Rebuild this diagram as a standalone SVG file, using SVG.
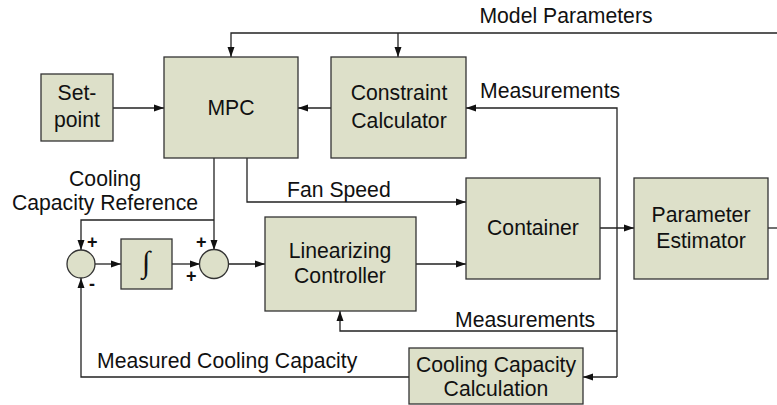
<svg xmlns="http://www.w3.org/2000/svg" width="777" height="405" viewBox="0 0 777 405">
<style>
.b{fill:#dde0c9;stroke:#333;stroke-width:1.3}
.l{fill:none;stroke:#222;stroke-width:1.3}
text{font-family:"Liberation Sans",Arial,sans-serif;font-size:21.2px;fill:#111}
.c{text-anchor:middle}
.s{font-size:18px;font-weight:bold}
</style>
<defs>
<marker id="a" viewBox="0 0 10 10" refX="10" refY="5" markerWidth="10" markerHeight="10" markerUnits="userSpaceOnUse" orient="auto">
<path d="M0,1.5 L10,5 L0,8.5 z" fill="#111"/>
</marker>
</defs>
<rect width="777" height="405" fill="#fff"/>
<g id="connectors">
<path class="l" d="M777,33 H231 V57" marker-end="url(#a)"/>
<path class="l" d="M398,33 V57" marker-end="url(#a)"/>
<path class="l" d="M113,108 H164" marker-end="url(#a)"/>
<path class="l" d="M331,108 H298" marker-end="url(#a)"/>
<path class="l" d="M617,377 V108 H466" marker-end="url(#a)"/>
<path class="l" d="M247,158 V202 H466" marker-end="url(#a)"/>
<path class="l" d="M214,158 V250" marker-end="url(#a)"/>
<path class="l" d="M214,220 H81 V250" marker-end="url(#a)"/>
<path class="l" d="M95,264 H121" marker-end="url(#a)"/>
<path class="l" d="M172,264 H200" marker-end="url(#a)"/>
<path class="l" d="M229,264 H265" marker-end="url(#a)"/>
<path class="l" d="M416,264 H466" marker-end="url(#a)"/>
<path class="l" d="M600,228 H634" marker-end="url(#a)"/>
<path class="l" d="M768,228 H777"/>
<path class="l" d="M617,331 H340 V311" marker-end="url(#a)"/>
<path class="l" d="M617,377 H583" marker-end="url(#a)"/>
<path class="l" d="M409,377 H81 V278" marker-end="url(#a)"/>
</g>
<g id="setpoint"><rect class="b" x="41" y="74" width="72" height="67"/><text class="c" x="77" y="100">Set-</text><text class="c" x="77" y="127">point</text></g>
<g id="mpc"><rect class="b" x="164" y="57" width="134" height="101"/><text class="c" x="231" y="115">MPC</text></g>
<g id="constraint"><rect class="b" x="331" y="57" width="135" height="101"/><text class="c" x="399" y="100">Constraint</text><text class="c" x="399" y="128">Calculator</text></g>
<g id="container"><rect class="b" x="466" y="178" width="134" height="101"/><text class="c" x="533" y="235">Container</text></g>
<g id="estimator"><rect class="b" x="634" y="178" width="134" height="101"/><text class="c" x="701" y="222">Parameter</text><text class="c" x="701" y="248">Estimator</text></g>
<g id="linearizing"><rect class="b" x="265" y="217" width="151" height="94"/><text class="c" x="340" y="258">Linearizing</text><text class="c" x="340" y="283">Controller</text></g>
<g id="ccc"><rect class="b" x="409" y="348" width="174" height="56"/><text class="c" x="496" y="372">Cooling Capacity</text><text class="c" x="496" y="396">Calculation</text></g>
<g id="sum1"><circle class="b" cx="81" cy="264" r="14"/><text class="s" x="87" y="248">+</text><text class="s" x="89" y="290">-</text></g>
<g id="integrator"><rect class="b" x="121" y="239" width="51" height="50"/><text class="c" x="146" y="272" style="font-family:'Liberation Serif',serif;font-size:30px">∫</text></g>
<g id="sum2"><circle class="b" cx="214" cy="264" r="14.5"/><text class="s" x="196" y="248">+</text><text class="s" x="186" y="282">+</text></g>
<g id="labels">
<text class="c" x="566" y="23">Model Parameters</text>
<text x="480" y="98">Measurements</text>
<text class="c" x="105" y="186">Cooling</text>
<text class="c" x="105" y="210">Capacity Reference</text>
<text x="287" y="197">Fan Speed</text>
<text x="455" y="327">Measurements</text>
<text x="97" y="368">Measured Cooling Capacity</text>
</g>
</svg>
